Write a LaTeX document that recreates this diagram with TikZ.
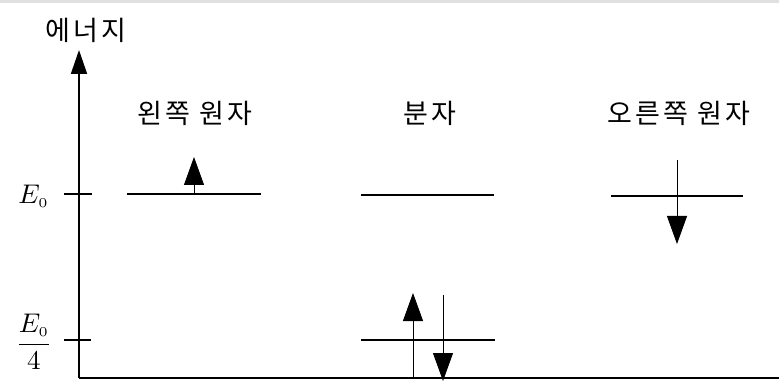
\documentclass[tikz,border=0pt]{standalone}
\usepackage{fontspec}
\usepackage{graphicx}
\newfontfamily\kor[LetterSpace=12]{Noto Sans CJK KR}
\usetikzlibrary{arrows.meta}

\tikzset{
  axisline/.style={line width=1.8pt},
  level/.style={line width=1.6pt},
  spin/.style={line width=0.9pt, -{Triangle[length=28pt, width=20pt]}},
  title/.style={font=\kor\fontsize{27}{30}\selectfont},
  tag/.style={inner sep=1pt}
}

\begin{document}
\begin{tikzpicture}[x=1pt,y=-1pt]
\useasboundingbox (0,0) rectangle (779,390);
\fill[black!12] (0,0) rectangle (779,3);
% axes
\coordinate (origin) at (79,378);
\coordinate (ytop) at (79,50);
\coordinate (xend) at (779,378);
\draw[axisline, -{Triangle[length=24pt, width=16pt]}] (origin) -- (ytop);
\draw[axisline] (origin) -- (xend);
\node[title] (energy) at (86,30) {에너지};
% ticks
\coordinate (tickA1) at (64,194);
\coordinate (tickA2) at (92,194);
\coordinate (tickB1) at (64,340);
\coordinate (tickB2) at (91,340);
\draw[level] (tickA1) -- (tickA2);
\draw[level] (tickB1) -- (tickB2);
\node[tag, anchor=east] (eo) at (50,196) {\scalebox{2.7}{$E_{\scriptscriptstyle 0}$}};
\node[tag] (eoq) at (34,342) {\scalebox{2.7}{$\displaystyle\frac{E_{\scriptscriptstyle 0}}{4}$}};
% titles
\node[title] (leftname) at (195,113) {왼쪽 원자};
\node[title] (molname) at (430,113) {분자};
\node[title] (rightname) at (679,113) {오른쪽 원자};
% left atom
\coordinate (la) at (127,194);
\coordinate (lb) at (261,194);
\draw[level] (la) -- (lb);
\coordinate (lup0) at (194,194);
\coordinate (lup1) at (194,157);
\draw[spin] (lup0) -- (lup1);
% molecule
\coordinate (ma) at (361,195);
\coordinate (mb) at (494,195);
\draw[level] (ma) -- (mb);
\coordinate (mc) at (361,340);
\coordinate (md) at (495,340);
\draw[level] (mc) -- (md);
\coordinate (mup0) at (413,378);
\coordinate (mup1) at (413,293);
\draw[spin] (mup0) -- (mup1);
\coordinate (mdn0) at (443,295);
\coordinate (mdn1) at (443,381);
\draw[spin] (mdn0) -- (mdn1);
% right atom
\coordinate (ra) at (611,196);
\coordinate (rb) at (743,196);
\draw[level] (ra) -- (rb);
\coordinate (rdn0) at (677,160);
\coordinate (rdn1) at (677,244);
\draw[spin] (rdn0) -- (rdn1);
\end{tikzpicture}
\end{document}
